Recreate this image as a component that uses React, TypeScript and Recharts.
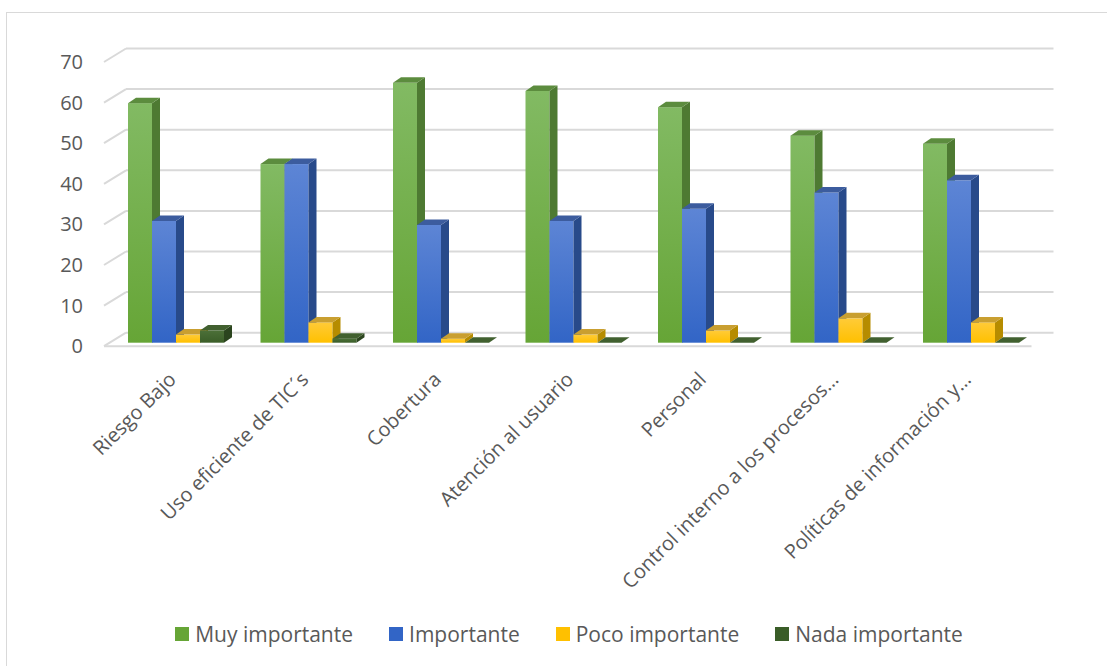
import React from 'react';
import { BarChart, Bar, XAxis, YAxis, CartesianGrid, Legend, ReferenceLine } from 'recharts';

const categories = [
  'Riesgo Bajo',
  'Uso eficiente de TIC´s',
  'Cobertura',
  'Atención al usuario',
  'Personal',
  'Control interno a los procesos…',
  'Políticas de información y…',
];
const muyImportante = [59, 44, 64, 62, 58, 51, 49];
const importante = [30, 44, 29, 30, 33, 37, 40];
const pocoImportante = [2, 5, 1, 2, 3, 6, 5];
const nadaImportante = [3, 1, 0, 0, 0, 0, 0];
const yTicks = [0, 10, 20, 30, 40, 50, 60, 70];

const data = categories.map((name, i) => ({
  name,
  muy: muyImportante[i],
  imp: importante[i],
  poco: pocoImportante[i],
  nada: nadaImportante[i],
}));

const FONT = '"Open Sans", sans-serif';
const TEXT = '#595959';
const GRID = '#d9d9d9';

// bar depth and wall depth (front / back planes relative to the bar plane)
const DX = 8;
const DY = 5.5;
const FRONT = { x: -6, y: 3.5 };
const BACK = { x: 16, y: -10 };

const series = [
  { key: 'muy', name: 'Muy importante', top: '#82ba63', bottom: '#66a536', side: '#4e7a32', cap: '#5c8c3e' },
  { key: 'imp', name: 'Importante', top: '#5d85d5', bottom: '#3265c6', side: '#284a8a', cap: '#3c5c9e' },
  { key: 'poco', name: 'Poco importante', top: '#ffcb38', bottom: '#ffc000', side: '#b68c00', cap: '#c99f30' },
  { key: 'nada', name: 'Nada importante', top: '#4c7038', bottom: '#3a5d28', side: '#2b441e', cap: '#41602f' },
];
const seriesOrder = series.map((s) => s.name);

const make3DBar = (s: typeof series[number]) => (props: any) => {
  const { x, y, width, height } = props;
  const h = Math.max(height || 0, 0);
  return (
    <g>
      {h > 0 && <rect x={x} y={y} width={width} height={h} fill={`url(#grad-${s.key})`} />}
      {h > 0 && (
        <polygon
          points={`${x + width},${y} ${x + width + DX},${y - DY} ${x + width + DX},${y + h - DY} ${x + width},${y + h}`}
          fill={s.side}
        />
      )}
      <polygon
        points={`${x},${y} ${x + DX},${y - DY} ${x + width + DX},${y - DY} ${x + width},${y}`}
        fill={s.cap}
      />
    </g>
  );
};

const gridLine = (p: any) => {
  const { x1, x2, y1 } = p;
  return (
    <g key={p.key}>
      <line x1={x1 + BACK.x} y1={y1 + BACK.y} x2={x2 + BACK.x} y2={y1 + BACK.y} stroke={GRID} strokeWidth={2} />
      <line x1={x1 + FRONT.x} y1={y1 + FRONT.y} x2={x1 + BACK.x} y2={y1 + BACK.y} stroke={GRID} strokeWidth={2} />
    </g>
  );
};

const floorLine = (p: any) => {
  const { x1, x2, y1 } = p;
  return (
    <line x1={x1 + FRONT.x} y1={y1 + FRONT.y} x2={x2 + FRONT.x} y2={y1 + FRONT.y} stroke={GRID} strokeWidth={2} />
  );
};

const YTick = (props: any) => {
  const { x, y, payload } = props;
  return (
    <text x={x} y={y + FRONT.y} dy="0.35em" textAnchor="end" fontFamily={FONT} fontSize={20} fill={TEXT}>
      {payload.value}
    </text>
  );
};

const XTick = (props: any) => {
  const { x, y, payload } = props;
  return (
    <text
      x={x + 1}
      y={y}
      textAnchor="end"
      transform={`rotate(-45 ${x + 1} ${y})`}
      fontFamily={FONT}
      fontSize={20}
      fill={TEXT}
    >
      {payload.value}
    </text>
  );
};

const renderLegend = (props: any) => {
  const items = [...(props.payload || [])].sort(
    (a: any, b: any) => seriesOrder.indexOf(a.value) - seriesOrder.indexOf(b.value)
  );
  return (
    <div
      style={{
        display: 'flex',
        justifyContent: 'center',
        gap: 36,
        fontFamily: FONT,
        fontSize: 21,
        color: TEXT,
        lineHeight: '26px',
      }}
    >
      {items.map((item: any) => (
        <span key={item.value} style={{ display: 'flex', alignItems: 'center' }}>
          <span style={{ display: 'inline-block', width: 14, height: 14, background: item.color, marginRight: 6 }} />
          {item.value}
        </span>
      ))}
    </div>
  );
};

export default function App() {
  return (
    <div style={{ position: 'absolute', left: 0, top: 0, width: 1107, height: 666, overflow: 'hidden', background: '#fff' }}>
      <div
        style={{
          position: 'absolute',
          left: 6,
          top: 12,
          width: 1200,
          height: 700,
          border: `1.5px solid ${GRID}`,
        }}
      />
      <BarChart
        width={1107}
        height={666}
        data={data}
        margin={{ top: 58.5, right: 69.5, bottom: 73.3, left: 50 }}
        barSize={24}
        barGap={0}
        style={{ position: 'absolute', left: 0, top: 0 }}
      >
        <defs>
          {series.map((s) => (
            <linearGradient key={s.key} id={`grad-${s.key}`} x1="0" y1="0" x2="0" y2="1">
              <stop offset="0%" stopColor={s.top} />
              <stop offset="100%" stopColor={s.bottom} />
            </linearGradient>
          ))}
        </defs>
        <CartesianGrid vertical={false} horizontal={gridLine} />
        <ReferenceLine y={0} shape={floorLine} />
        <XAxis
          dataKey="name"
          axisLine={false}
          tickLine={false}
          tickSize={0}
          tickMargin={38}
          interval={0}
          height={250}
          tick={<XTick />}
        />
        <YAxis
          domain={[0, 70]}
          ticks={yTicks}
          axisLine={false}
          tickLine={false}
          tickSize={0}
          tickMargin={27}
          width={60}
          tick={<YTick />}
        />
        <Legend
          layout="horizontal"
          verticalAlign="middle"
          content={renderLegend}
          wrapperStyle={{ top: 621, left: 28, width: 1082 }}
        />
        {series.map((s) => (
          <Bar
            key={s.key}
            dataKey={s.key}
            name={s.name}
            fill={s.bottom}
            shape={make3DBar(s)}
            isAnimationActive={false}
          />
        ))}
      </BarChart>
    </div>
  );
}
